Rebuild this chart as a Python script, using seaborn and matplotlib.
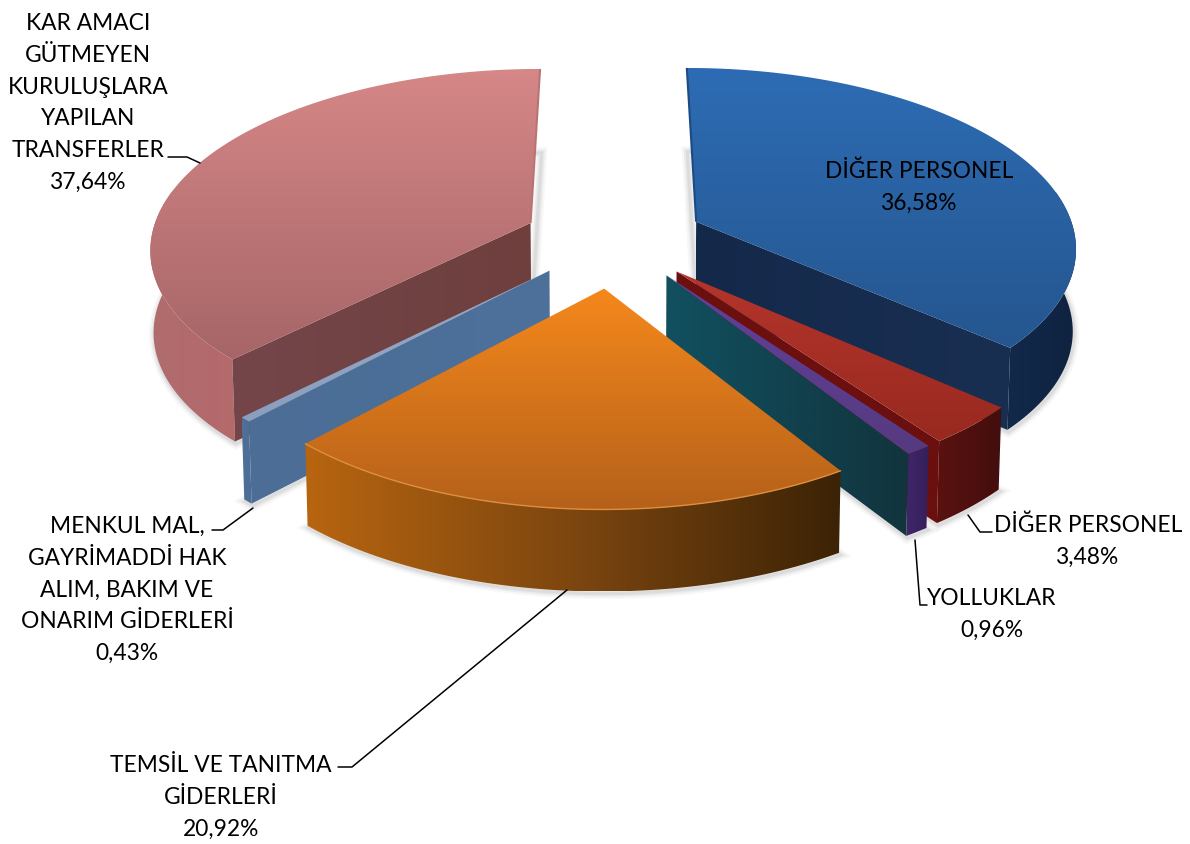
import numpy as np
import matplotlib
matplotlib.use("Agg")
import matplotlib.pyplot as plt
from matplotlib.patches import Polygon
import seaborn as sns

# slices, clockwise from 12 o'clock
labels = ["DİĞER PERSONEL\n36,58%", "DİĞER PERSONEL\n3,48%", "YOLLUKLAR\n0,96%",
          "TEMSİL VE TANITMA\nGİDERLERİ\n20,92%",
          "MENKUL MAL,\nGAYRİMADDİ HAK\nALIM, BAKIM VE\nONARIM GİDERLERİ\n0,43%",
          "KAR AMACI\nGÜTMEYEN\nKURULUŞLARA\nYAPILAN\nTRANSFERLER\n37,64%"]
values = [36.58, 3.48, 0.96, 20.92, 0.43, 37.64]

explode = [0.24, 0.24, 0.24, 0.27, 0.24, 0.24]
top_cols = [["#2d6cb4", "#25568f"], ["#b5352c", "#98291f"], ["#62409a", "#563a80"],
            ["#f5881c", "#b5611a"], ["#95a8c8", "#8a9fc0"], ["#d68787", "#a66567"]]
rim_cols = [["#12294a", "#0f2340"], ["#5a1210", "#420e0d"], ["#40266a", "#35205a"],
            ["#b8650f", "#7c4610", "#3c2305"], ["#4f7099", "#4b6d96"], ["#b06c6e", "#b5696b"]]
wall_cols = [["#14294a", "#192f52"], ["#6b0f0f", "#6b0f0f"], ["#115060", "#11343d"],
             None, ["#4b6d96", "#4d719b"], ["#74464a", "#6e3f3d"]]
wall_side = ["end", "end", "end", None, "start", "start"]
inner_edge = ["#1b4a85", None, None, None, None, "#b87474"]
draw_order = [5, 0, 1, 2, 4, 3]

label_xy = [(919, 187), (1088, 541), (992, 614), (221, 797), (127, 590), (88, 103)]
leaders = [None,
           [(968, 515), (980, 532), (992, 532)],
           [(915, 540), (920, 605), (927, 605)],
           [(338, 767), (352, 767), (567, 590)],
           [(212, 530), (223, 530), (253, 508)],
           [(168, 157), (187, 157), (200, 163)]]

cx, cy = 614, 239
rx, ry = 380, 178
persp = 0.13
height = 82


def project(x, y, base=False):
    w = 1 - persp * y
    sx = rx * x / w
    sy = cy + ry * y / w
    if base:
        return cx + sx * 0.993, sy + height
    return cx + sx, sy


def shade(ax, pts, cols, horizontal, z):
    x0, y0 = pts.min(axis=0)
    x1, y1 = pts.max(axis=0)
    grad = np.linspace(0, 1, 256)
    grad = grad.reshape(1, -1) if horizontal else grad.reshape(-1, 1)
    cmap = sns.blend_palette(cols, as_cmap=True)
    im = ax.imshow(grad, cmap=cmap, extent=(x0, x1, y1, y0), aspect="auto",
                   interpolation="bilinear", zorder=z)
    clip = Polygon(pts, fc="none", ec="none", zorder=z)
    ax.add_patch(clip)
    im.set_clip_path(clip)


sns.set_theme(style="white")
plt.rcParams["font.family"] = ["Lato", "DejaVu Sans"]

fig = plt.figure(figsize=(11.9, 8.44), dpi=100)
ax = fig.add_axes([0, 0, 1, 1])

fracs = np.array(values) / sum(values) * 2 * np.pi
ends = np.cumsum(fracs)
starts = ends - fracs

z = 2
for i in draw_order:
    a0, a1 = starts[i], ends[i]
    mid = (a0 + a1) / 2
    ox, oy = explode[i] * np.sin(mid), -explode[i] * np.cos(mid)
    t = np.linspace(a0, a1, 90)
    arc_x, arc_y = ox + np.sin(t), oy - np.cos(t)

    top = np.column_stack(project(arc_x, arc_y))
    bot = np.column_stack(project(arc_x, arc_y, base=True))
    apex = np.array(project(ox, oy))
    apex_b = np.array(project(ox, oy, base=True))

    # soft shadow round the foot of the slice
    base_poly = np.vstack([apex_b, bot])
    for lw, al in [(8, 0.04), (5, 0.06), (2.5, 0.08)]:
        ax.add_patch(Polygon(base_poly + [1, 2], fc="none", ec="#333333", lw=lw, alpha=al, zorder=1))

    # the far part of the rim is behind the top face, leave it out
    front = -np.cos(t) > -0.2
    shade(ax, np.vstack([top[front], bot[front][::-1]]), rim_cols[i], True, z)
    z += 1
    if wall_side[i]:
        k = 0 if wall_side[i] == "start" else -1
        shade(ax, np.array([apex, top[k], bot[k], apex_b]), wall_cols[i], True, z)
        z += 1
    shade(ax, np.vstack([apex, top]), top_cols[i], False, z)
    z += 1
    if inner_edge[i]:
        k = 0 if wall_side[i] == "end" else -1
        ax.plot([top[k, 0], apex[0]], [top[k, 1], apex[1]], color=inner_edge[i], lw=1.5,
                solid_capstyle="butt", zorder=z)
        z += 1
    if i == 3:
        ax.plot(top[:, 0], top[:, 1], color="#dd8f3c", lw=1, zorder=z)
        z += 1

for lab, (lx, ly), lead in zip(labels, label_xy, leaders):
    ax.text(lx, ly, lab, ha="center", va="center", fontsize=16.4, color="black",
            linespacing=1.64, zorder=z + 1)
    if lead:
        xs, ys = zip(*lead)
        ax.plot(xs, ys, color="black", lw=1.1, zorder=z)

ax.set_xlim(0, 1190)
ax.set_ylim(844, 0)
ax.axis("off")
fig.savefig("out.png", dpi=100)
